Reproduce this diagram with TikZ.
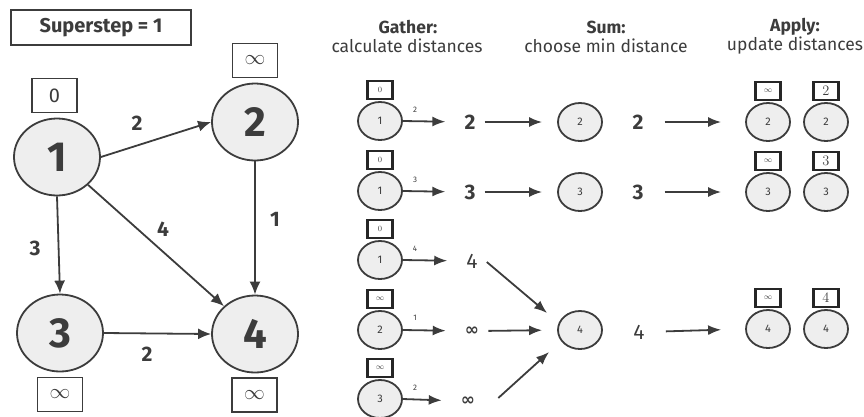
\documentclass[tikz,border=0pt]{standalone}
\usepackage{fontspec}
\setsansfont{Fira Sans}
\newfontfamily\djv{DejaVu Sans}
\usetikzlibrary{arrows.meta,shapes.geometric}
\definecolor{ink}{HTML}{3C3C3C}
\definecolor{nfill}{HTML}{EEEEEE}
\newcommand{\binf}{{\djv\bfseries\fontsize{17}{17}\selectfont ∞}}
\tikzset{
  big/.style={ellipse, draw=ink, fill=nfill, line width=1.8pt, minimum width=86pt, minimum height=77pt, inner sep=0pt, text=ink, font=\sffamily\fontsize{42}{42}\selectfont\bfseries},
  sm/.style={ellipse, draw=ink, fill=nfill, line width=1.8pt, minimum width=44pt, minimum height=38pt, inner sep=0pt, text=ink, font=\sffamily\fontsize{11}{11}\selectfont},
  bbox/.style={rectangle, draw=ink, line width=1.6pt, minimum width=45pt, minimum height=34pt, inner sep=0pt, text=ink, font=\fontsize{20}{20}\selectfont},
  sbox/.style={rectangle, draw=black!85, line width=2.4pt, minimum width=25pt, minimum height=18pt, inner sep=0pt, text=ink, font=\fontsize{8}{8}\selectfont},
  abox/.style={sbox, font=\fontsize{14}{14}\selectfont},
  elab/.style={text=ink, inner sep=0pt, font=\sffamily\fontsize{21}{21}\selectfont\bfseries},
  val/.style={text=ink, inner sep=0pt, font=\sffamily\fontsize{21}{21}\selectfont\bfseries},
  tiny/.style={text=ink, inner sep=0pt, font=\sffamily\fontsize{8}{8}\selectfont},
  head/.style={text=ink, inner sep=0pt, font=\sffamily\fontsize{17.5}{17.5}\selectfont},
  headb/.style={text=ink, inner sep=0pt, font=\sffamily\fontsize{17.5}{17.5}\selectfont\bfseries},
  bigarr/.style={draw=ink, line width=1.8pt, -{Latex[length=13pt,width=11pt]}},
  sarr/.style={draw=ink, line width=1.8pt, -{Latex[length=13pt,width=10pt]}},
}
\begin{document}
\begin{tikzpicture}[x=1pt,y=-1pt]
\useasboundingbox (0,0) rectangle (864,416);
% left graph
\node[rectangle, draw=ink, line width=1.3pt, minimum width=180pt, minimum height=35pt, text=ink, font=\sffamily\fontsize{20}{20}\selectfont\bfseries] (ss) at (101,27.5) {Superstep = 1};
\node[big] (n1) at (57,157) {1};
\node[big] (n2) at (255,122) {2};
\node[big] (n3) at (60,333) {3};
\node[big] (n4) at (255,334) {4};
\node[bbox, font=\sffamily\fontsize{20}{20}\selectfont] (b1) at (54.5,95.5) {0};
\node[bbox] (b2) at (255,60.5) {$\infty$};
\node[bbox] (b3) at (60,394.5) {$\infty$};
\node[bbox] (b4) at (254.5,395) {$\infty$};
\draw[bigarr] (n1.east) -- (n2.west);
\draw[bigarr] (n1.south) -- (n3.north);
\draw[bigarr] (n1.south east) -- (n4.north west);
\draw[bigarr] (n2.south) -- (n4.north);
\draw[bigarr] (n3.east) -- (n4.west);
\node[elab] (l12) at (137,123) {2};
\node[elab] (l13) at (35,248) {3};
\node[elab] (l14) at (163,229) {4};
\node[elab] (l24) at (275,219) {1};
\node[elab] (l34) at (147,354) {2};
% headers
\node[headb] (hg1) at (408,27) {Gather:};
\node[head] (hg2) at (407,46) {calculate distances};
\node[headb] (hs1) at (606,27) {Sum:};
\node[head] (hs2) at (606,46) {choose min distance};
\node[headb] (ha1) at (795,27) {Apply:};
\node[head] (ha2) at (795,46) {update distances};
% gather
\node[sm] (g1) at (380,121) {1};
\node[sm] (g2) at (380,191) {1};
\node[sm] (g3) at (380,260) {1};
\node[sm] (g4) at (380,330) {2};
\node[sm] (g5) at (380,399) {3};
\node[sbox, anchor=south] (gb1) at ([yshift=1pt]g1.north) {$0$};
\node[sbox, anchor=south] (gb2) at ([yshift=1pt]g2.north) {$0$};
\node[sbox, anchor=south] (gb3) at ([yshift=1pt]g3.north) {$0$};
\node[sbox, anchor=south] (gb4) at ([yshift=1pt]g4.north) {$\infty$};
\node[sbox, anchor=south] (gb5) at ([yshift=1pt]g5.north) {$\infty$};
\node[tiny] (gl1) at (415,110) {2};
\node[tiny] (gl2) at (415,180) {3};
\node[tiny] (gl3) at (415,249) {4};
\node[tiny] (gl4) at (415,318) {1};
\node[tiny] (gl5) at (415,388) {2};
\node[val] (v1) at (470,122) {2};
\node[val] (v2) at (470,192) {3};
\node[val, font=\sffamily\fontsize{21}{21}\selectfont] (v3) at (472,261) {4};
\node[val] (v4) at (472,331) {\binf};
\node[val] (v5) at (468,401) {\binf};
\draw[sarr, shorten >=19pt] (g1.east) -- (v1.west);
\draw[sarr, shorten >=19pt] (g2.east) -- (v2.west);
\draw[sarr, shorten >=19pt] (g3.east) -- (v3.west);
\draw[sarr, shorten >=19pt] (g4.east) -- (v4.west);
\draw[sarr, shorten >=19pt] (g5.east) -- (v5.west);
% sum
\node[sm] (s1) at (580,122) {2};
\node[sm] (s2) at (580,192) {3};
\node[sm] (s4) at (580,330) {4};
\draw[sarr, shorten <=9pt, shorten >=15pt] (v1.east) -- (s1.west);
\draw[sarr, shorten <=9pt, shorten >=15pt] (v2.east) -- (s2.west);
\draw[sarr, shorten <=9pt, shorten >=15pt] (v4.east) -- (s4.west);
\draw[sarr] ([shift={(9,1)}]v3.east) -- ([shift={(-10,-17)}]s4.west);
\draw[sarr] ([shift={(23,-3)}]v5.east) -- ([shift={(-8,22)}]s4.west);
\node[val] (w1) at (638,122) {2};
\node[val] (w2) at (638,192) {3};
\node[val, font=\sffamily\fontsize{21}{21}\selectfont] (w4) at (639,332) {4};
% apply
\node[sm] (a1) at (768,122) {2};
\node[sm] (c1) at (826,122) {2};
\node[sm] (a2) at (768,192) {3};
\node[sm] (c2) at (826,192) {3};
\node[sm] (a4) at (768,329) {4};
\node[sm] (c4) at (826,329) {4};
\node[sbox, anchor=south] (ab1) at ([yshift=1pt]a1.north) {$\infty$};
\node[sbox, anchor=south] (ab2) at ([yshift=1pt]a2.north) {$\infty$};
\node[sbox, anchor=south] (ab4) at ([yshift=1pt]a4.north) {$\infty$};
\node[abox, anchor=south] (cb1) at ([yshift=1pt]c1.north) {$2$};
\node[abox, anchor=south] (cb2) at ([yshift=1pt]c2.north) {$3$};
\node[abox, anchor=south] (cb4) at ([yshift=1pt]c4.north) {$4$};
\draw[sarr, shorten <=21pt, shorten >=24pt] (w1.east) -- (a1.west);
\draw[sarr, shorten <=21pt, shorten >=24pt] (w2.east) -- (a2.west);
\draw[sarr, shorten <=21pt, shorten >=24pt] (w4.east) -- (a4.west);
\end{tikzpicture}
\end{document}
